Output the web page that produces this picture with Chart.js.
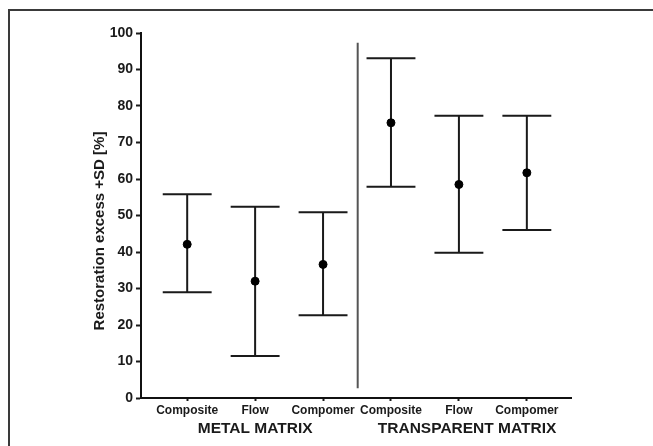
<!DOCTYPE html>
<html lang="en">
<head>
    <meta charset="UTF-8">
    <title>Restoration excess</title>
    <script src="https://cdn.jsdelivr.net/npm/chart.js"></script>
    <style>
        html, body {
            margin: 0;
            padding: 0;
            background: #ffffff;
            overflow: hidden;
        }
        .frame {
            position: absolute;
            left: 8px;
            top: 9px;
            right: 0;
            bottom: 0;
            border-top: 2px solid #3a3a3a;
            border-left: 2px solid #3a3a3a;
            pointer-events: none;
        }
        canvas {
            position: absolute;
            left: 0;
            top: 0;
        }
    </style>
</head>
<body>
    <canvas id="chart" width="653" height="446"></canvas>
    <div class="frame"></div>

    <script>
        // Data
        const categories = ['Composite', 'Flow', 'Compomer', 'Composite', 'Flow', 'Compomer'];
        const means = [42.1, 32.0, 36.6, 75.4, 58.5, 61.7];
        const lower = [29.0, 11.5, 22.7, 57.9, 39.8, 46.0];
        const upper = [55.8, 52.4, 50.9, 93.1, 77.3, 77.3];
        const groups = ['METAL MATRIX', 'TRANSPARENT MATRIX'];
        const groupCenters = [1, 4.12];
        const yTicks = [0, 10, 20, 30, 40, 50, 60, 70, 80, 90, 100];

        const FONT = "'Liberation Sans', Arial, Helvetica, sans-serif";
        const INK = '#1a1a1a';
        const capHalf = 0.36;
        const dividerX = 2.51;
        const dividerFrom = 2.7;
        const dividerTo = 97.3;

        // error bars, divider, group labels and axis title
        const extras = {
            id: 'extras',
            beforeDatasetsDraw(chart) {
                const { ctx, scales: { x, y } } = chart;
                ctx.save();
                ctx.strokeStyle = INK;
                ctx.lineWidth = 2;
                categories.forEach((c, i) => {
                    const px = x.getPixelForValue(i);
                    const x0 = x.getPixelForValue(i - capHalf);
                    const x1 = x.getPixelForValue(i + capHalf);
                    const yl = y.getPixelForValue(lower[i]);
                    const yh = y.getPixelForValue(upper[i]);
                    ctx.beginPath();
                    ctx.moveTo(px, yl); ctx.lineTo(px, yh);
                    ctx.moveTo(x0, yl); ctx.lineTo(x1, yl);
                    ctx.moveTo(x0, yh); ctx.lineTo(x1, yh);
                    ctx.stroke();
                });
                // divider between the two matrix groups
                ctx.strokeStyle = '#555';
                ctx.beginPath();
                ctx.moveTo(x.getPixelForValue(dividerX), y.getPixelForValue(dividerFrom));
                ctx.lineTo(x.getPixelForValue(dividerX), y.getPixelForValue(dividerTo));
                ctx.stroke();
                ctx.restore();
            },
            afterDraw(chart) {
                const { ctx, scales: { x, y } } = chart;
                ctx.save();
                ctx.fillStyle = INK;
                ctx.font = 'bold 15.5px ' + FONT;
                ctx.textAlign = 'center';
                ctx.textBaseline = 'middle';
                groups.forEach((g, i) => {
                    ctx.fillText(g, x.getPixelForValue(groupCenters[i]), 429);
                });
                ctx.translate(100, 231);
                ctx.rotate(-Math.PI / 2);
                ctx.font = 'bold 15px ' + FONT;
                ctx.fillText('Restoration excess +SD [%]', 0, 0);
                ctx.restore();
            }
        };

        new Chart(document.getElementById('chart'), {
            type: 'scatter',
            data: {
                datasets: [{
                    data: means.map((m, i) => ({ x: i, y: m })),
                    backgroundColor: '#000',
                    borderColor: '#000',
                    pointRadius: 4,
                    pointHoverRadius: 4
                }]
            },
            options: {
                responsive: false,
                animation: false,
                events: [],
                layout: { padding: { top: 33, right: 82, left: 0, bottom: 0 } },
                plugins: {
                    legend: { display: false },
                    tooltip: { enabled: false }
                },
                scales: {
                    x: {
                        type: 'linear',
                        min: -0.68,
                        max: 5.65,
                        afterFit(s) { s.height = 48; },
                        afterBuildTicks(s) { s.ticks = categories.map((c, i) => ({ value: i })); },
                        grid: { display: true, drawOnChartArea: false, drawTicks: true, tickLength: 3, tickColor: INK, tickWidth: 2 },
                        border: { display: true, color: '#111', width: 2 },
                        ticks: {
                            padding: 2,
                            maxRotation: 0,
                            autoSkip: false,
                            color: INK,
                            font: { family: FONT, size: 12, weight: 'bold' },
                            callback: (v) => categories[v]
                        }
                    },
                    y: {
                        min: 0,
                        max: 100,
                        afterFit(s) { s.width = 141; },
                        afterBuildTicks(s) { s.ticks = yTicks.map(v => ({ value: v })); },
                        grid: { display: true, drawOnChartArea: false, drawTicks: true, tickLength: 5, tickColor: INK, tickWidth: 2 },
                        border: { display: true, color: '#111', width: 2 },
                        ticks: {
                            padding: 3,
                            color: INK,
                            font: { family: FONT, size: 14, weight: 'bold' }
                        }
                    }
                }
            },
            plugins: [extras]
        });
    </script>
</body>
</html>
